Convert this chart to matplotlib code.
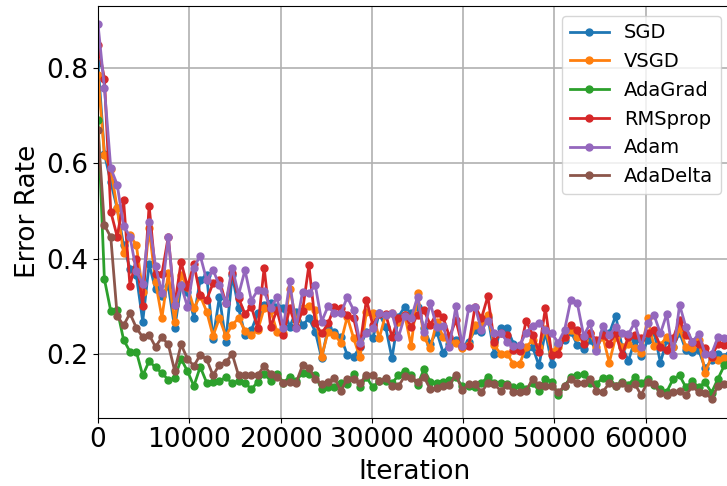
import numpy as np
import matplotlib
matplotlib.use('Agg')
import matplotlib.pyplot as plt

# error rate sampled every 700 iterations (100 points per optimiser)
STEP = 700
N_POINTS = 100

sgd = [0.81, 0.62, 0.56, 0.505, 0.428, 0.379, 0.365, 0.268, 0.388, 0.336, 0.322, 0.343, 0.254, 0.344, 0.330, 0.276, 0.356,
       0.365, 0.231, 0.320, 0.226, 0.365, 0.296, 0.240, 0.250, 0.285, 0.303, 0.306, 0.298, 0.296, 0.257, 0.289, 0.26,
       0.275, 0.247, 0.191, 0.254, 0.247, 0.236, 0.198, 0.194, 0.215, 0.247, 0.233, 0.285, 0.257, 0.191, 0.278, 0.299,
       0.285, 0.299, 0.254, 0.222, 0.247, 0.203, 0.222, 0.229, 0.215, 0.226, 0.250, 0.247, 0.278, 0.201, 0.254, 0.254, 0.222,
       0.215, 0.201, 0.215, 0.176, 0.247, 0.180, 0.222, 0.229, 0.247, 0.219, 0.210, 0.229, 0.208, 0.243, 0.243, 0.280, 0.215,
       0.186, 0.229, 0.196, 0.229, 0.247, 0.182, 0.229, 0.215, 0.245, 0.208, 0.205, 0.208, 0.170, 0.187, 0.201, 0.194, 0.21]
vsgd = [0.784, 0.617, 0.587, 0.506, 0.411, 0.449, 0.428, 0.330, 0.463, 0.351, 0.276, 0.369, 0.268, 0.365, 0.341, 0.296, 0.322,
        0.289, 0.238, 0.275, 0.238, 0.261, 0.275, 0.249, 0.240, 0.250, 0.296, 0.292, 0.247, 0.245, 0.337, 0.271, 0.296,
        0.300, 0.292, 0.194, 0.247, 0.240, 0.224, 0.278, 0.233, 0.193, 0.289, 0.285, 0.233, 0.282, 0.285, 0.268, 0.282,
        0.217, 0.328, 0.235, 0.212, 0.268, 0.236, 0.229, 0.224, 0.212, 0.219, 0.261, 0.264, 0.282, 0.219, 0.200, 0.201, 0.179,
        0.180, 0.215, 0.229, 0.215, 0.252, 0.205, 0.215, 0.235, 0.250, 0.236, 0.229, 0.243, 0.215, 0.236, 0.182, 0.236, 0.215,
        0.222, 0.212, 0.203, 0.275, 0.217, 0.219, 0.236, 0.215, 0.254, 0.215, 0.212, 0.229, 0.161, 0.194, 0.187, 0.191, 0.195]
adagrad = [0.69, 0.357, 0.29, 0.293, 0.23, 0.205, 0.205, 0.155, 0.185, 0.172, 0.16, 0.146, 0.149, 0.19, 0.164, 0.133, 0.173,
           0.140, 0.142, 0.144, 0.151, 0.139, 0.144, 0.140, 0.126, 0.142, 0.159, 0.144, 0.159, 0.140, 0.152, 0.144, 0.160,
           0.159, 0.155, 0.126, 0.131, 0.131, 0.139, 0.137, 0.159, 0.131, 0.152, 0.130, 0.144, 0.143, 0.139, 0.155, 0.165,
           0.155, 0.135, 0.168, 0.142, 0.140, 0.142, 0.146, 0.152, 0.132, 0.132, 0.131, 0.139, 0.152, 0.139, 0.139, 0.137, 0.130,
           0.132, 0.126, 0.140, 0.123, 0.148, 0.142, 0.115, 0.133, 0.152, 0.155, 0.159, 0.139, 0.138, 0.150, 0.150, 0.133, 0.142,
           0.135, 0.151, 0.140, 0.148, 0.135, 0.126, 0.121, 0.148, 0.155, 0.130, 0.143, 0.130, 0.141, 0.119, 0.148, 0.176, 0.19]
rmsprop = [0.847, 0.777, 0.498, 0.446, 0.522, 0.343, 0.400, 0.301, 0.511, 0.368, 0.368, 0.446, 0.302, 0.393, 0.341, 0.388, 0.323,
           0.314, 0.348, 0.355, 0.306, 0.370, 0.317, 0.284, 0.299, 0.254, 0.381, 0.257, 0.292, 0.240, 0.296, 0.257, 0.29,
           0.386, 0.264, 0.243, 0.264, 0.299, 0.296, 0.282, 0.275, 0.217, 0.314, 0.261, 0.284, 0.284, 0.236, 0.275, 0.282,
           0.257, 0.282, 0.292, 0.261, 0.285, 0.277, 0.236, 0.271, 0.217, 0.217, 0.299, 0.275, 0.321, 0.226, 0.243, 0.240, 0.208,
           0.207, 0.270, 0.240, 0.205, 0.296, 0.198, 0.201, 0.236, 0.261, 0.250, 0.222, 0.243, 0.229, 0.240, 0.222, 0.243, 0.198,
           0.236, 0.240, 0.233, 0.243, 0.250, 0.215, 0.208, 0.233, 0.271, 0.240, 0.226, 0.222, 0.212, 0.194, 0.222, 0.219, 0.22]
adam = [0.891, 0.758, 0.589, 0.555, 0.469, 0.446, 0.374, 0.346, 0.476, 0.384, 0.327, 0.446, 0.302, 0.344, 0.299, 0.381, 0.406,
        0.355, 0.376, 0.344, 0.306, 0.381, 0.324, 0.376, 0.312, 0.334, 0.331, 0.296, 0.319, 0.254, 0.352, 0.254, 0.33,
        0.327, 0.344, 0.268, 0.300, 0.285, 0.285, 0.319, 0.292, 0.224, 0.245, 0.254, 0.285, 0.282, 0.285, 0.235, 0.280,
        0.275, 0.320, 0.247, 0.306, 0.257, 0.258, 0.215, 0.300, 0.217, 0.296, 0.299, 0.250, 0.270, 0.245, 0.245, 0.226, 0.217,
        0.219, 0.245, 0.259, 0.266, 0.250, 0.243, 0.224, 0.250, 0.314, 0.306, 0.238, 0.264, 0.207, 0.259, 0.240, 0.256, 0.243,
        0.242, 0.266, 0.215, 0.264, 0.282, 0.243, 0.284, 0.198, 0.303, 0.256, 0.226, 0.242, 0.201, 0.200, 0.235, 0.233, 0.23]
adadelta = [0.67, 0.47, 0.445, 0.28, 0.26, 0.285, 0.255, 0.235, 0.24, 0.215, 0.235, 0.22, 0.165, 0.22, 0.19, 0.175, 0.198,
            0.189, 0.155, 0.178, 0.183, 0.200, 0.155, 0.156, 0.155, 0.156, 0.175, 0.159, 0.151, 0.140, 0.142, 0.140, 0.176,
            0.171, 0.148, 0.137, 0.141, 0.150, 0.123, 0.148, 0.147, 0.139, 0.156, 0.155, 0.144, 0.150, 0.132, 0.132, 0.154,
            0.150, 0.142, 0.152, 0.126, 0.128, 0.133, 0.135, 0.157, 0.124, 0.137, 0.137, 0.120, 0.139, 0.137, 0.123, 0.135, 0.121,
            0.120, 0.123, 0.148, 0.135, 0.132, 0.132, 0.120, 0.133, 0.148, 0.140, 0.140, 0.148, 0.123, 0.121, 0.139, 0.133, 0.139,
            0.128, 0.137, 0.114, 0.142, 0.137, 0.118, 0.114, 0.121, 0.123, 0.114, 0.132, 0.120, 0.119, 0.106, 0.133, 0.137, 0.135]

NAMES = ['SGD', 'VSGD', 'AdaGrad', 'RMSprop', 'Adam', 'AdaDelta']
SERIES = [sgd, vsgd, adagrad, rmsprop, adam, adadelta]

iters = np.arange(N_POINTS) * STEP

W, H = 727, 486
fig = plt.figure(figsize=(W / 100, H / 100), dpi=100)
ax = fig.add_axes([98 / W, 68.5 / H, 632.7 / W, 411.5 / H])

for name, vals in zip(NAMES, SERIES):
    ax.plot(iters, vals, marker='o', markersize=5, linewidth=2, label=name)

ax.set_xlim(0, iters[-1])
ax.set_ylim(0.067, 0.929)
ax.set_xticks(np.arange(0, 70000, 10000))
ax.set_yticks([0.2, 0.4, 0.6, 0.8])
ax.tick_params(labelsize=19)
ax.set_xlabel('Iteration', fontsize=19)
ax.set_ylabel('Error Rate', fontsize=19)
ax.grid(True, color='#b0b0b0', linewidth=1.2)
ax.legend(loc='upper right', fontsize=14)

fig.savefig('out.png', dpi=100)
